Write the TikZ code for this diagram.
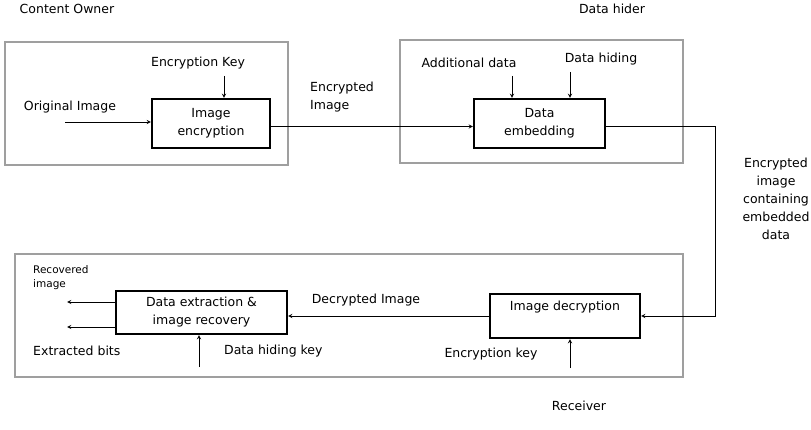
\documentclass[tikz,border=0pt]{standalone}
\usepackage{fontspec}
\setmainfont{DejaVu Sans}
\usetikzlibrary{positioning}
\tikzset{
  groupbox/.style={draw=gray!75,line width=1.6pt,inner sep=0pt},
  procbox/.style={draw,line width=2.2pt,align=center,inner sep=0pt},
  flow/.style={->,>=stealth,line width=0.9pt},
  txt/.style={inner sep=0pt,align=center}
}
\begin{document}
\begin{tikzpicture}[x=1pt,y=-1pt,font=\fontsize{12.5}{18}\selectfont]
\useasboundingbox (0,0) rectangle (811,430);
% the three parties
\node[groupbox,minimum width=283pt,minimum height=123pt] (ownerbox) at (146.5,103.5) {};
\node[groupbox,minimum width=283pt,minimum height=123pt] (hiderbox) at (541.5,101.5) {};
\node[groupbox,minimum width=668pt,minimum height=123pt] (receiverbox) at (349,315.5) {};
\node[txt] (ownerlabel) at (67,9) {Content Owner};
\node[txt] (hiderlabel) at (612,9) {Data hider};
\node[txt] (receiverlabel) at (579,406) {Receiver};
% processing steps
\node[procbox,minimum width=118pt,minimum height=49pt] (encbox) at (211,123.5) {Image\\encryption};
\node[procbox,minimum width=131pt,minimum height=49pt] (embbox) at (539.5,123.5) {Data\\embedding};
\node[procbox,minimum width=150pt,minimum height=44pt,text height=10pt,text depth=20pt] (decbox) at (565,316) {Image decryption};
\node[procbox,minimum width=171pt,minimum height=43pt] (extbox) at (201.5,312.5) {Data extraction \&\\image recovery};
% texts
\node[txt] (enckey) at (198,63) {Encryption Key};
\node[txt] (origimg) at (70,107) {Original Image};
\node[txt,anchor=west,align=left] (encimg) at (310,97) {Encrypted\\Image};
\node[txt] (adddata) at (469,63) {Additional data};
\node[txt] (hiding) at (601,59) {Data hiding};
\node[txt] (embimg) at (776,199) {Encrypted\\image\\containing\\embedded\\data};
\node[txt,anchor=west,align=left,font=\fontsize{10.5}{14}\selectfont] (recimg) at (33,278) {Recovered\\image};
\node[txt,anchor=west] (bits) at (33,351) {Extracted bits};
\node[txt,anchor=west] (hidekey) at (224,351) {Data hiding key};
\node[txt] (decimg) at (366,300) {Decrypted Image};
\node[txt] (deckey) at (491,354) {Encryption key};
% connectors
\coordinate (origin) at (65,122);
\coordinate (enckeyin) at (224,76);
\coordinate (addin) at (512,76);
\coordinate (hidein) at (570,72);
\coordinate (deckeyin) at (570,368);
\coordinate (hidekeyin) at (199,367);
\coordinate (recout) at (67,302);
\coordinate (bitsout) at (67,327);
\draw[flow] (origin) -- (origin -| encbox.west);
\draw[flow] (enckeyin) -- (enckeyin |- encbox.north);
\draw[flow] ([yshift=-3pt]encbox.east) -- ([yshift=-3pt]embbox.west);
\draw[flow] (addin) -- (addin |- embbox.north);
\draw[flow] (hidein) -- (hidein |- embbox.north);
\draw[flow] ([yshift=-3pt]embbox.east) -- ++(109,0) |- (decbox.east);
\draw[flow] (decbox.west) -- (decbox.west -| extbox.east);
\draw[flow] (deckeyin) -- (deckeyin |- decbox.south);
\draw[flow] (hidekeyin) -- (hidekeyin |- extbox.south);
\draw[flow] (recout -| extbox.west) -- (recout);
\draw[flow] (bitsout -| extbox.west) -- (bitsout);
\end{tikzpicture}
\end{document}
